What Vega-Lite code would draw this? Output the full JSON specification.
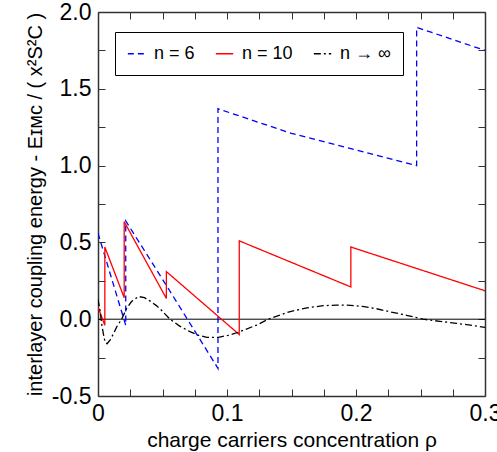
{
  "$schema": "https://vega.github.io/schema/vega-lite/v6.json",
  "width": 387,
  "height": 384,
  "autosize": {"type": "none"},
  "padding": {"left": 98, "top": 12, "right": 12, "bottom": 56},
  "background": "white",
  "config": {
    "view": {"stroke": null},
    "font": "Liberation Sans",
    "axis": {
      "grid": false,
      "domainColor": "#333333",
      "domainWidth": 1.5,
      "tickColor": "#333333",
      "tickWidth": 1,
      "tickSize": -7,
      "labelFontSize": 23,
      "labelColor": "black",
      "titleFontSize": 20,
      "titleFontWeight": "normal",
      "titleColor": "black"
    },
    "legend": {
      "orient": "none",
      "legendX": 17,
      "legendY": 20,
      "direction": "horizontal",
      "title": null,
      "strokeColor": "black",
      "fillColor": "white",
      "padding": 12,
      "labelFontSize": 18,
      "labelColor": "black",
      "labelOffset": 8,
      "symbolType": "stroke",
      "symbolSize": 300,
      "symbolStrokeWidth": 1.5,
      "columnPadding": 17
    }
  },
  "datasets": {
    "zero": [{"x0": 0, "x1": 0.3, "y": 0}],
    "curves": [
      {"n": "n = 6", "i": 0, "x": 0, "y": 0.56},
      {"n": "n = 6", "i": 1, "x": 0.0215, "y": -0.04},
      {"n": "n = 6", "i": 2, "x": 0.0215, "y": 0.64},
      {"n": "n = 6", "i": 3, "x": 0.053, "y": 0.22},
      {"n": "n = 6", "i": 4, "x": 0.093, "y": -0.32},
      {"n": "n = 6", "i": 5, "x": 0.093, "y": 1.37},
      {"n": "n = 6", "i": 6, "x": 0.15, "y": 1.21},
      {"n": "n = 6", "i": 7, "x": 0.247, "y": 1.0},
      {"n": "n = 6", "i": 8, "x": 0.247, "y": 1.9},
      {"n": "n = 6", "i": 9, "x": 0.3, "y": 1.75},
      {"n": "n = 10", "i": 0, "x": 0, "y": 0.08},
      {"n": "n = 10", "i": 1, "x": 0.0053, "y": -0.04},
      {"n": "n = 10", "i": 2, "x": 0.0053, "y": 0.47},
      {"n": "n = 10", "i": 3, "x": 0.0203, "y": 0.14},
      {"n": "n = 10", "i": 4, "x": 0.0203, "y": 0.635},
      {"n": "n = 10", "i": 5, "x": 0.053, "y": 0.135},
      {"n": "n = 10", "i": 6, "x": 0.053, "y": 0.31},
      {"n": "n = 10", "i": 7, "x": 0.1095, "y": -0.1},
      {"n": "n = 10", "i": 8, "x": 0.1095, "y": 0.51},
      {"n": "n = 10", "i": 9, "x": 0.196, "y": 0.21},
      {"n": "n = 10", "i": 10, "x": 0.196, "y": 0.47},
      {"n": "n = 10", "i": 11, "x": 0.3, "y": 0.185},
      {"n": "n → ∞", "i": 0, "x": 0, "y": 0.13},
      {"n": "n → ∞", "i": 1, "x": 0.0015, "y": 0.06},
      {"n": "n → ∞", "i": 2, "x": 0.003, "y": -0.04},
      {"n": "n → ∞", "i": 3, "x": 0.0045, "y": -0.11},
      {"n": "n → ∞", "i": 4, "x": 0.0055, "y": -0.15},
      {"n": "n → ∞", "i": 5, "x": 0.007, "y": -0.16},
      {"n": "n → ∞", "i": 6, "x": 0.0093, "y": -0.136},
      {"n": "n → ∞", "i": 7, "x": 0.012, "y": -0.095},
      {"n": "n → ∞", "i": 8, "x": 0.0145, "y": -0.05},
      {"n": "n → ∞", "i": 9, "x": 0.0183, "y": 0.0},
      {"n": "n → ∞", "i": 10, "x": 0.0222, "y": 0.07},
      {"n": "n → ∞", "i": 11, "x": 0.026, "y": 0.115},
      {"n": "n → ∞", "i": 12, "x": 0.0313, "y": 0.148},
      {"n": "n → ∞", "i": 13, "x": 0.036, "y": 0.14},
      {"n": "n → ∞", "i": 14, "x": 0.041, "y": 0.115},
      {"n": "n → ∞", "i": 15, "x": 0.045, "y": 0.09},
      {"n": "n → ∞", "i": 16, "x": 0.049, "y": 0.06},
      {"n": "n → ∞", "i": 17, "x": 0.0558, "y": 0.0},
      {"n": "n → ∞", "i": 18, "x": 0.0633, "y": -0.045},
      {"n": "n → ∞", "i": 19, "x": 0.0713, "y": -0.081},
      {"n": "n → ∞", "i": 20, "x": 0.078, "y": -0.105},
      {"n": "n → ∞", "i": 21, "x": 0.0843, "y": -0.118},
      {"n": "n → ∞", "i": 22, "x": 0.0933, "y": -0.118},
      {"n": "n → ∞", "i": 23, "x": 0.101, "y": -0.105},
      {"n": "n → ∞", "i": 24, "x": 0.1088, "y": -0.085},
      {"n": "n → ∞", "i": 25, "x": 0.123, "y": -0.038},
      {"n": "n → ∞", "i": 26, "x": 0.132, "y": 0.0},
      {"n": "n → ∞", "i": 27, "x": 0.149, "y": 0.05},
      {"n": "n → ∞", "i": 28, "x": 0.162, "y": 0.074},
      {"n": "n → ∞", "i": 29, "x": 0.1747, "y": 0.088},
      {"n": "n → ∞", "i": 30, "x": 0.185, "y": 0.092},
      {"n": "n → ∞", "i": 31, "x": 0.193, "y": 0.092},
      {"n": "n → ∞", "i": 32, "x": 0.205, "y": 0.083},
      {"n": "n → ∞", "i": 33, "x": 0.216, "y": 0.068},
      {"n": "n → ∞", "i": 34, "x": 0.226, "y": 0.049},
      {"n": "n → ∞", "i": 35, "x": 0.24, "y": 0.024},
      {"n": "n → ∞", "i": 36, "x": 0.252, "y": 0.0},
      {"n": "n → ∞", "i": 37, "x": 0.265, "y": -0.014},
      {"n": "n → ∞", "i": 38, "x": 0.278, "y": -0.027},
      {"n": "n → ∞", "i": 39, "x": 0.29, "y": -0.04},
      {"n": "n → ∞", "i": 40, "x": 0.3, "y": -0.053}
    ]
  },
  "layer": [
    {
      "data": {"name": "zero"},
      "mark": {"type": "rule", "color": "black", "strokeWidth": 1},
      "encoding": {
        "x": {
          "field": "x0", "type": "quantitative",
          "scale": {"domain": [0, 0.3], "nice": false, "zero": false},
          "axis": {"orient": "top", "title": null, "labels": false,
                   "values": [0, 0.025, 0.05, 0.075, 0.1, 0.125, 0.15, 0.175, 0.2, 0.225, 0.25, 0.275, 0.3]}
        },
        "x2": {"field": "x1"},
        "y": {
          "field": "y", "type": "quantitative",
          "scale": {"domain": [-0.5, 2], "nice": false, "zero": false},
          "axis": {"orient": "right", "title": null, "labels": false,
                   "values": [-0.5, -0.25, 0, 0.25, 0.5, 0.75, 1, 1.25, 1.5, 1.75, 2]}
        }
      }
    },
    {
      "data": {"name": "curves"},
      "mark": {"type": "line", "strokeWidth": 1.3, "clip": true},
      "encoding": {
        "x": {
          "field": "x", "type": "quantitative",
          "scale": {"domain": [0, 0.3], "nice": false, "zero": false},
          "axis": {"orient": "bottom", "title": "charge carriers concentration  ρ",
                   "values": [0, 0.025, 0.05, 0.075, 0.1, 0.125, 0.15, 0.175, 0.2, 0.225, 0.25, 0.275, 0.3],
                   "labelExpr": "abs(datum.value*10 - round(datum.value*10)) < 0.001 ? (datum.value == 0 ? '0' : format(datum.value, '.1f')) : ''",
                   "labelFlush": false,
                   "labelPadding": 13,
                   "titleFontSize": 21,
                   "titlePadding": 4}
        },
        "y": {
          "field": "y", "type": "quantitative",
          "scale": {"domain": [-0.5, 2], "nice": false, "zero": false},
          "axis": {"orient": "left", "title": "interlayer coupling energy  - Eɪᴍᴄ / ( x²S²C )",
                   "values": [-0.5, -0.25, 0, 0.25, 0.5, 0.75, 1, 1.25, 1.5, 1.75, 2],
                   "labelExpr": "abs(datum.value*2 - round(datum.value*2)) < 0.001 ? replace(format(datum.value, '.1f'), '−', '-') : ''",
                   "labelFlush": false,
                   "labelPadding": 14,
                   "titlePadding": 6}
        },
        "color": {
          "field": "n", "type": "nominal",
          "scale": {"domain": ["n = 6", "n = 10", "n → ∞"], "range": ["#0000ff", "#ff0000", "#000000"]}
        },
        "strokeDash": {
          "field": "n", "type": "nominal",
          "scale": {"domain": ["n = 6", "n = 10", "n → ∞"], "range": [[6, 4], [1, 0], [7, 3, 2, 3]]}
        },
        "order": {"field": "i", "type": "quantitative"}
      }
    }
  ],
  "resolve": {"axis": {"x": "independent", "y": "independent"}}
}
